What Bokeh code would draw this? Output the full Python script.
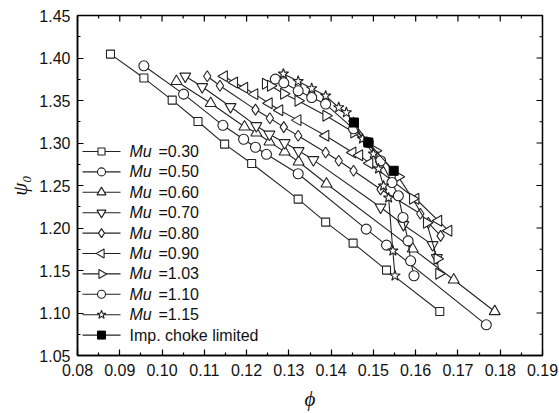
import math
import numpy as np
from bokeh.plotting import figure
from bokeh.models import FixedTicker, NumeralTickFormatter, Range1d
from bokeh.core.properties import value
from bokeh.embed import file_html
from bokeh.resources import INLINE

# ---------------- data ----------------
phi_030 = [0.0878, 0.0957, 0.1024, 0.1085, 0.1148, 0.1212, 0.1322, 0.1387, 0.1452, 0.1531, 0.1657]
psi_030 = [1.4046, 1.3764, 1.3505, 1.3253, 1.2987, 1.2759, 1.2340, 1.2069, 1.1822, 1.1505, 1.1018]

phi_050 = [0.0957, 0.1051, 0.1144, 0.1193, 0.1221, 0.1247, 0.1322, 0.1483, 0.1531, 0.1767]
psi_050 = [1.3908, 1.3575, 1.3208, 1.3044, 1.2950, 1.2867, 1.2638, 1.1987, 1.1799, 1.0861]

phi_060 = [0.1034, 0.1115, 0.1195, 0.1223, 0.1254, 0.1290, 0.1323, 0.1389, 0.1593, 0.1690, 0.1787]
psi_060 = [1.3726, 1.3467, 1.3191, 1.3120, 1.3014, 1.2896, 1.2779, 1.2520, 1.1755, 1.1391, 1.1018]

phi_070 = [0.1055, 0.1095, 0.1162, 0.1223, 0.1254, 0.1290, 0.1323, 0.1358, 0.1517, 0.1571, 0.1640, 0.1650]
psi_070 = [1.3785, 1.3661, 1.3426, 1.3202, 1.3102, 1.3002, 1.2908, 1.2802, 1.2244, 1.2038, 1.1802, 1.1649]

phi_080 = [0.1107, 0.1137, 0.1221, 0.1255, 0.1288, 0.1322, 0.1387, 0.1418, 0.1453, 0.1517, 0.1611, 0.1630, 0.1659]
psi_080 = [1.3785, 1.3673, 1.3393, 1.3291, 1.3187, 1.3085, 1.2888, 1.2791, 1.2673, 1.2455, 1.2167, 1.2061, 1.1908]

phi_090 = [0.1147, 0.1171, 0.1195, 0.1219, 0.1253, 0.1278, 0.1321, 0.1387, 0.1451, 0.1467, 0.1491, 0.1600, 0.1654, 0.1678]
psi_090 = [1.3785, 1.3712, 1.3649, 1.3575, 1.3467, 1.3385, 1.3269, 1.3085, 1.2888, 1.2855, 1.2761, 1.2344, 1.2085, 1.1967]

phi_103 = [0.1245, 0.1257, 0.1288, 0.1322, 0.1388, 0.1454, 0.1505, 0.1559, 0.1593, 0.1626, 0.1651, 0.1655]
psi_103 = [1.3696, 1.3673, 1.3579, 1.3496, 1.3320, 1.3124, 1.2908, 1.2602, 1.2344, 1.2061, 1.1638, 1.1461]

phi_110 = [0.1268, 0.1288, 0.1322, 0.1354, 0.1387, 0.1453, 0.1488, 0.1517, 0.1544, 0.1559, 0.1570, 0.1582, 0.1588, 0.1596]
psi_110 = [1.3752, 1.3708, 1.3614, 1.3535, 1.3458, 1.3167, 1.3006, 1.2791, 1.2535, 1.2379, 1.2124, 1.1849, 1.1614, 1.1438]

phi_115 = [0.1287, 0.1322, 0.1354, 0.1387, 0.1418, 0.1436, 0.1453, 0.1474, 0.1500, 0.1512, 0.1524, 0.1536, 0.1546, 0.1551]
psi_115 = [1.3814, 1.3726, 1.3641, 1.3555, 1.3418, 1.3359, 1.3241, 1.3049, 1.2873, 1.2696, 1.2496, 1.2355, 1.1732, 1.1438]

phi_choke = [0.1454, 0.1488, 0.1548]
psi_choke = [1.3241, 1.3006, 1.2673]

mu_values = ["0.30", "0.50", "0.60", "0.70", "0.80", "0.90", "1.03", "1.10", "1.15"]
mu_name = "Mu"
choke_label = "Imp. choke limited"

x_ticks = [0.08, 0.09, 0.10, 0.11, 0.12, 0.13, 0.14, 0.15, 0.16, 0.17, 0.18, 0.19]
y_ticks = [1.05, 1.10, 1.15, 1.20, 1.25, 1.30, 1.35, 1.40, 1.45]

# ---------------- figure ----------------
FW, FH = 465, 340
x_min, x_max = x_ticks[0], x_ticks[-1]
y_min, y_max = y_ticks[0], y_ticks[-1]
p = figure(frame_width=FW, frame_height=FH,
           x_range=Range1d(x_min, x_max), y_range=Range1d(y_min, y_max),
           output_backend="svg", toolbar_location=None,
           min_border_left=77, min_border_right=17,
           min_border_top=15, min_border_bottom=58)
p.xgrid.visible = False
p.ygrid.visible = False
p.outline_line_color = "black"
p.outline_line_width = 1.5
p.background_fill_color = "white"
p.border_fill_color = "white"

FONT = "Liberation Sans"
TXT = "#111111"
xaxis = p.xaxis[0]
yaxis = p.yaxis[0]

def minors(ticks):
    return [round((a + b) / 2, 4) for a, b in zip(ticks[:-1], ticks[1:])]

def style_axis(ax, ticks):
    ax.ticker = FixedTicker(ticks=ticks, minor_ticks=minors(ticks))
    ax.formatter = NumeralTickFormatter(format="0.00")
    ax.major_tick_in = 6
    ax.major_tick_out = 0
    ax.minor_tick_in = 3
    ax.minor_tick_out = 0
    ax.axis_line_width = 1.5
    ax.axis_line_color = "black"
    ax.major_tick_line_color = "black"
    ax.minor_tick_line_color = "black"
    ax.major_tick_line_width = 1.2
    ax.minor_tick_line_width = 1.2
    ax.major_label_text_font = FONT
    ax.major_label_text_color = TXT
    ax.major_label_text_font_size = "16px"
    ax.axis_label_text_font = "Liberation Serif"
    ax.axis_label_text_font_style = "italic"
    ax.axis_label_text_font_size = "21px"
    ax.axis_label_text_color = TXT

style_axis(xaxis, x_ticks)
style_axis(yaxis, y_ticks)
xaxis.major_label_standoff = 8
yaxis.major_label_standoff = 7
xaxis.axis_label = "ϕ"
yaxis.axis_label = "ψ₀"
xaxis.axis_label_standoff = 8
yaxis.axis_label_standoff = 4

# mirrored inward ticks on the top and right spines (screen-length rays)
p.ray(x=x_ticks, y=y_max, length=6, angle=-math.pi / 2, length_units="screen",
      line_color="black", line_width=1.2)
p.ray(x=minors(x_ticks), y=y_max, length=3, angle=-math.pi / 2, length_units="screen",
      line_color="black", line_width=1.2)
p.ray(x=x_max, y=y_ticks, length=6, angle=math.pi, length_units="screen",
      line_color="black", line_width=1.2)
p.ray(x=x_max, y=minors(y_ticks), length=3, angle=math.pi, length_units="screen",
      line_color="black", line_width=1.2)

LC = "#222222"
# marker, rotation, size in plot, size in legend
styles = [
    ("square", 0.0, 8, 7),
    ("circle", 0.0, 10, 8),
    ("triangle", 0.0, 11, 9),
    ("inverted_triangle", 0.0, 11, 9),
    ("diamond", 0.0, 11, 9),
    ("triangle", math.pi / 2, 11, 9),
    ("triangle", -math.pi / 2, 11, 9),
    ("circle", 0.0, 10, 8),
    ("star", 0.0, 11, 9),
]
series = [(phi_030, psi_030), (phi_050, psi_050), (phi_060, psi_060),
          (phi_070, psi_070), (phi_080, psi_080), (phi_090, psi_090),
          (phi_103, psi_103), (phi_110, psi_110), (phi_115, psi_115)]

for (xs, ys), (mk, ang, sz, _) in zip(series, styles):
    p.line(xs, ys, line_color=LC, line_width=1.1)
    p.scatter(xs, ys, marker=mk, angle=ang, size=sz,
              fill_color="white", line_color=LC, line_width=1.1)

p.line(phi_choke, psi_choke, line_color=LC, line_width=1.1)
p.scatter(phi_choke, psi_choke, marker="square", size=9,
          fill_color="black", line_color="black")

# ---------------- legend (drawn in a frame-pixel coordinate space) ----------------
p.extra_x_ranges = {"lx": Range1d(0, FW)}
p.extra_y_ranges = {"ly": Range1d(0, FH)}
LEG_TOP, LEG_ROW = 204.0, 20.4
LEG_X0, LEG_X1, LEG_TXT, LEG_VAL = 5, 43, 52, 81
n_rows = len(mu_values) + 1
rows = [LEG_TOP - i * LEG_ROW for i in range(n_rows)]
mid = (LEG_X0 + LEG_X1) / 2
for i, yrow in enumerate(rows):
    p.line([LEG_X0, LEG_X1], [yrow, yrow], line_color=LC, line_width=1.1,
           x_range_name="lx", y_range_name="ly")
for i, (mk, ang, _, lsz) in enumerate(styles):
    p.scatter([mid], [rows[i]], marker=mk, angle=ang, size=lsz,
              fill_color="white", line_color=LC, line_width=1.1,
              x_range_name="lx", y_range_name="ly")
p.scatter([mid], [rows[-1]], marker="square", size=8,
          fill_color="black", line_color="black",
          x_range_name="lx", y_range_name="ly")

p.text(x=[LEG_TXT] * len(mu_values), y=rows[:-1], text=[mu_name] * len(mu_values),
       text_font=value(FONT), text_font_style="italic", text_font_size="16px",
       text_color=TXT, text_baseline="middle", text_align="left",
       x_range_name="lx", y_range_name="ly")
p.text(x=[LEG_VAL] * len(mu_values), y=rows[:-1], text=["=" + v for v in mu_values],
       text_font=value(FONT), text_font_size="16px",
       text_color=TXT, text_baseline="middle", text_align="left",
       x_range_name="lx", y_range_name="ly")
p.text(x=[LEG_TXT], y=[rows[-1]], text=[choke_label],
       text_font=value(FONT), text_font_size="16px",
       text_color=TXT, text_baseline="middle", text_align="left",
       x_range_name="lx", y_range_name="ly")

open("out.html", "w").write(file_html(p, INLINE))
